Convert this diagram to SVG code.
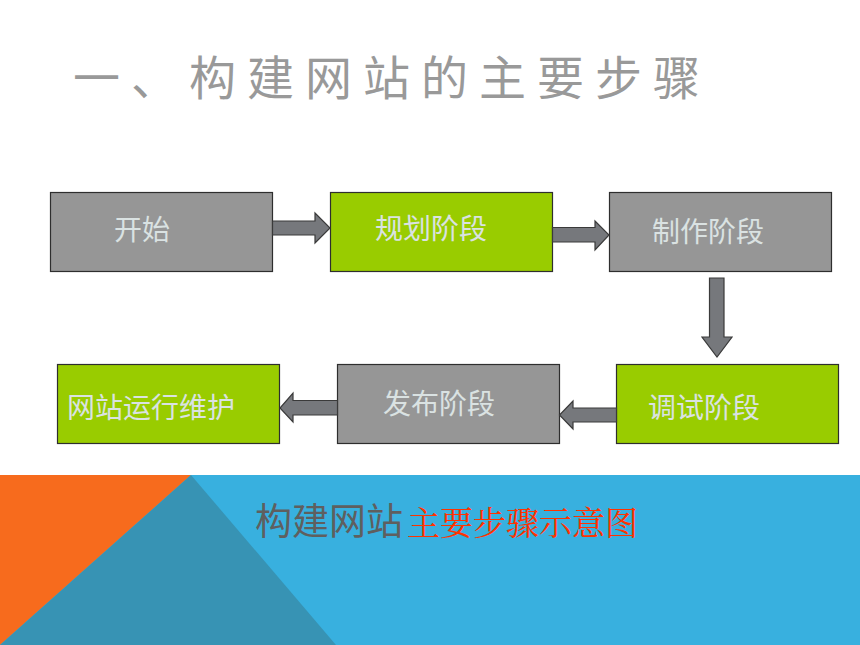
<svg xmlns="http://www.w3.org/2000/svg" width="860" height="645" viewBox="0 0 860 645">
<defs>
<style>
.box{stroke:#2e2e2e;stroke-width:1.2}
.gray{fill:#969696}
.green{fill:#99cc00}
.lbl{font-family:"Noto Sans CJK SC","Noto Sans",sans-serif;font-size:28px;fill:#dae2e2}
.arr{fill:#76787c;stroke:#3a3a3a;stroke-width:1.2;stroke-linejoin:miter}
.title{font-family:"Noto Sans CJK SC","Noto Sans",sans-serif;font-size:47px;fill:#999999;letter-spacing:11px}
</style>
</defs>
<rect width="860" height="645" fill="#ffffff"/>
<text class="title" x="73" y="95">一、构建网站的主要步骤</text>

<g id="n1"><rect class="box gray" x="50.5" y="192.5" width="222" height="79"/><text class="lbl" x="114" y="240">开始</text></g>
<g id="n2"><rect class="box green" x="330.5" y="192.5" width="222" height="79"/><text class="lbl" x="375" y="239">规划阶段</text></g>
<g id="n3"><rect class="box gray" x="609.5" y="192.5" width="222" height="79"/><text class="lbl" x="652" y="242">制作阶段</text></g>
<g id="n4"><rect class="box green" x="616.5" y="364.5" width="222" height="79"/><text class="lbl" x="648" y="418">调试阶段</text></g>
<g id="n5"><rect class="box gray" x="337.5" y="364.5" width="222" height="79"/><text class="lbl" x="383" y="414">发布阶段</text></g>
<g id="n6"><rect class="box green" x="57.5" y="364.5" width="222" height="79"/><text class="lbl" x="67" y="418">网站运行维护</text></g>

<g id="connectors">
<polygon class="arr" points="272.5,221 315,221 315,213 330,228 315,243 315,235 272.5,235"/>
<polygon class="arr" points="552.5,227.5 595,227.5 595,221 609,235 595,250 595,242 552.5,242"/>
<polygon class="arr" points="709.5,278 724,278 724,337 732,337 717,357 702,337 709.5,337"/>
<polygon class="arr" points="616.5,408 573,408 573,401 559.5,415 573,429 573,422 616.5,422"/>
<polygon class="arr" points="337.5,400.5 293,400.5 293,393 280,408 293,422 293,415 337.5,415"/>
</g>

<rect x="0" y="475" width="860" height="170" fill="#38b0df"/>
<polygon points="0,475 191,475 0,645" fill="#f76b1d"/>
<polygon points="191,475 336,645 0,645" fill="#3793b4"/>
<text x="255" y="535" font-family="'Noto Sans CJK SC',sans-serif" font-size="37" fill="#5f5f5f">构建网站<tspan dx="4" fill="#ff3300" font-size="33" font-family="'Noto Serif CJK SC','Noto Sans CJK SC',serif">主要步骤示意图</tspan></text>
</svg>
